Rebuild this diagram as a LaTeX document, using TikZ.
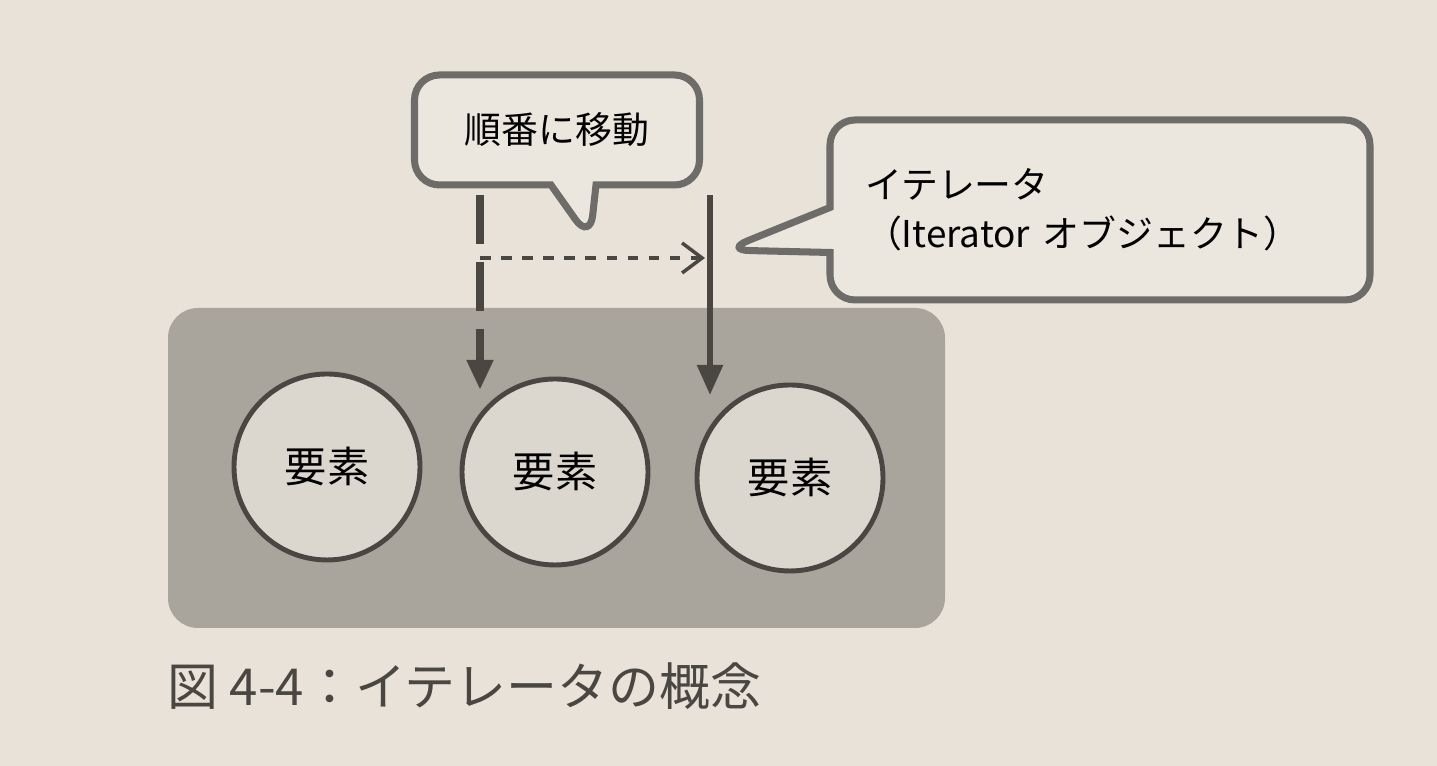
\documentclass[tikz,border=0pt]{standalone}
\usepackage{fontspec}
\setmainfont{Noto Sans CJK JP}
\usetikzlibrary{positioning,shapes.callouts,arrows.meta}
\definecolor{paper}{HTML}{E8E2D8}
\definecolor{panel}{HTML}{A9A49C}
\definecolor{ink}{HTML}{4A4743}
\definecolor{bubble}{HTML}{ECE7DE}
\definecolor{elem}{HTML}{DCD7CE}
\begin{document}
\begin{tikzpicture}[
elem/.style={draw=ink,line width=1.4pt,circle,fill=elem,minimum size=1.86cm,font=\fontsize{12}{14}\selectfont},
note/.style={rectangle callout,draw=ink!80,line width=2pt,fill=bubble,rounded corners=0.25cm,
    callout pointer width=0.45cm,font=\fontsize{10.5}{14}\selectfont}]
\fill[paper] (0,0) rectangle (14.37,7.66);
% container
\node (group) [fill=panel,rounded corners=0.3cm,minimum width=7.77cm,minimum height=3.2cm] at (5.565,2.98) {};
\node (e1) [elem] at (3.27,2.99) {要素};
\node (e2) [elem] at (5.55,2.94) {要素};
\node (e3) [elem] at (7.90,2.88) {要素};
% callouts
\node (move) [note,minimum width=2.85cm,minimum height=1.1cm,
    callout absolute pointer={(5.9,5.26)}] at (5.57,6.36) {順番に移動};
\node (iter) [note,minimum width=5.4cm,minimum height=1.8cm,align=left,text width=4.7cm,
    callout absolute pointer={(7.25,5.16)}] at (11.0,5.56) {イテレータ\\（Iterator オブジェクト）};
% pointers
\coordinate (old top) at (4.8,5.71);
\coordinate (old tip) at (4.8,3.76);
\coordinate (new top) at (7.1,5.71);
\coordinate (new tip) at (7.1,3.71);
\draw[ink,line width=2.2pt,dash pattern=on 14pt off 5pt,-{Triangle[length=0.3cm,width=0.25cm]}] (old top) -- (old tip);
\draw[ink,line width=1.6pt,-{Triangle[length=0.3cm,width=0.25cm]}] (new top) -- (new tip);
\coordinate (step from) at (4.8,5.08);
\coordinate (step to) at (7.05,5.08);
\draw[ink,line width=1pt,dashed,-{Straight Barb[length=0.2cm,width=0.3cm]}] (step from) -- (step to);
% caption
\node (cap) [anchor=west,text=ink,font=\fontsize{14.5}{18}\selectfont] at (1.55,0.8) {図 4-4：イテレータの概念};
\end{tikzpicture}
\end{document}
